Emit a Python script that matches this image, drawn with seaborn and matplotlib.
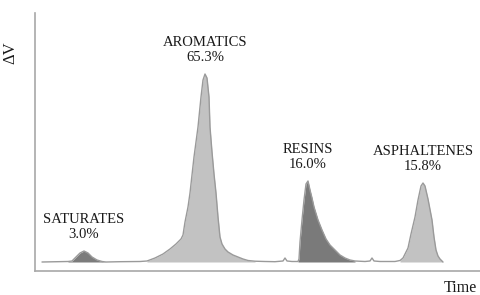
import matplotlib
matplotlib.use("Agg")
import matplotlib.pyplot as plt
import seaborn as sns
import pandas as pd
import numpy as np

# ---- data ----
trace_time = [0.7, 3.3, 3.7, 4.1, 4.5, 4.9, 5.3, 5.7, 6.2, 6.7, 7.1, 8.5, 10.5,
              11.2, 12.0, 12.8, 13.5, 14.1, 14.6, 14.8, 15.0, 15.3, 15.5, 15.9,
              16.3, 16.6, 16.8, 17.0, 17.2, 17.4, 17.5, 17.7, 17.9, 18.1, 18.3,
              18.5, 18.7, 19.0, 19.3, 19.8, 20.3, 20.8, 21.3, 22.0, 23.0, 24.0,
              24.8, 25.0, 25.2, 25.7, 26.3, 26.4, 26.5, 26.7, 26.9, 27.1, 27.3,
              27.5, 27.7, 27.9, 28.3, 28.7, 29.1, 29.5, 30.0, 30.5, 31.0, 31.5,
              32.0, 33.0, 33.5, 33.7, 33.9, 34.5, 36.0, 36.5, 36.8, 37.1, 37.3,
              37.6, 38.0, 38.3, 38.6, 38.8, 39.0, 39.3, 39.7, 39.9, 40.1, 40.3,
              40.5, 40.8]
trace_signal = [0, 0.5, 1, 5, 9, 11, 9, 5, 2, 0.5, 0, 0.3, 0.5,
                1, 4, 8, 13, 18, 23, 27, 40, 55, 69, 105,
                135, 165, 182, 188, 184, 165, 135, 110, 88, 69, 45,
                25, 18, 13, 10, 7, 5, 3, 1.5, 0.8, 0.5, 0.3,
                1, 4, 1, 0.5, 0.5, 3, 20, 42, 62, 78, 81,
                72, 64, 55, 42, 32, 23, 17, 12, 7, 4, 2,
                1, 0.5, 1, 4, 1, 0.5, 0.5, 1.5, 4, 10, 14,
                28, 45, 62, 76, 79, 76, 63, 42, 25, 12, 6,
                3, 0]

fractions = ["SATURATES", "AROMATICS", "RESINS", "ASPHALTENES"]
percents = [3.0, 65.3, 16.0, 15.8]
fraction_start = [3.3, 11.2, 26.3, 36.5]
fraction_end = [7.1, 22.0, 32.0, 40.8]
fraction_colors = ["#7c7c7c", "#c2c2c2", "#7a7a7a", "#c2c2c2"]

df = pd.DataFrame({"Time": trace_time, "Signal": trace_signal})

# ---- figure ----
sns.set_style("white")
plt.rcParams["font.family"] = ["Liberation Serif", "DejaVu Serif"]

W, H = 481, 295
fig = plt.figure(figsize=(W / 100, H / 100), dpi=100)
ax = fig.add_axes([35 / W, (H - 271) / H, (W - 35) / W, (271 - 13) / H])

t = np.array(trace_time)
s = np.array(trace_signal)
for name, t0, t1, c in zip(fractions, fraction_start, fraction_end, fraction_colors):
    m = (t >= t0) & (t <= t1)
    ax.fill_between(t[m], 0, s[m], color=c, linewidth=0, zorder=1)

sns.lineplot(data=df, x="Time", y="Signal", ax=ax, color="#9a9a9a",
             linewidth=1.0, zorder=2)

ax.set_xlim(0, 44.6)
ax.set_ylim(-9, 249)
ax.set_xticks([])
ax.set_yticks([])

for sp in ["top", "right"]:
    ax.spines[sp].set_visible(False)
for sp in ["left", "bottom"]:
    ax.spines[sp].set_color("#a8a8a8")
    ax.spines[sp].set_linewidth(1.2)

# peak labels
for name, pct, t0, t1 in zip(fractions, percents, fraction_start, fraction_end):
    m = (t >= t0) & (t <= t1)
    i = np.argmax(np.where(m, s, -1))
    ax.annotate(f"{name}\n{pct:.1f}%", xy=(t[i], s[i]), xytext=(0, 7.5),
                textcoords="offset points", ha="center", va="bottom",
                multialignment="center", fontsize=10.5, color="#1a1a1a",
                linespacing=1.15)

ax.set_xlabel("Time", loc="right", fontsize=11.5, color="#1a1a1a")
ax.xaxis.set_label_coords(0.99, -0.035)
ax.set_ylabel("ΔV", fontsize=12, color="#1a1a1a")
ax.yaxis.set_label_coords(-0.038, 0.845)

fig.savefig("out.png", dpi=100)
